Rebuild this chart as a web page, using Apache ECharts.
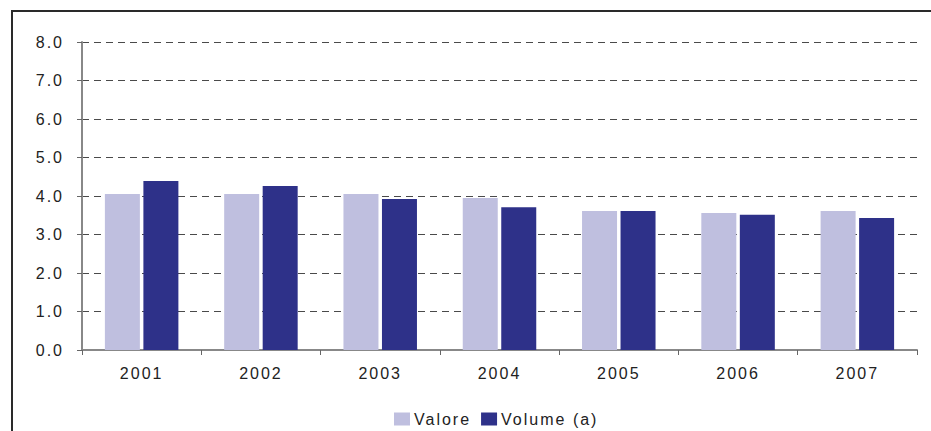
<!DOCTYPE html>
<html>
<head>
<meta charset="utf-8">
<script src="https://cdn.jsdelivr.net/npm/echarts@6/dist/echarts.min.js"></script>
<style>
  html, body { margin: 0; padding: 0; background: #fff; }
  #chart { width: 931px; height: 431px; }
  /* the original uses widely spaced labels */
  #chart svg text { letter-spacing: 2px; }
</style>
</head>
<body>
<div id="chart"></div>
<script>
const years = ['2001', '2002', '2003', '2004', '2005', '2006', '2007'];
const valore = [4.05, 4.05, 4.05, 3.95, 3.61, 3.56, 3.61];
const volume = [4.39, 4.26, 3.92, 3.71, 3.61, 3.51, 3.43];
const yTicks = [0, 1, 2, 3, 4, 5, 6, 7, 8];

const chart = echarts.init(document.getElementById('chart'), null, { renderer: 'svg' });

const labelFont = {
  color: '#222',
  fontFamily: 'Liberation Sans, Arial, sans-serif',
  fontSize: 16
};

chart.setOption({
  animation: false,
  backgroundColor: '#fff',
  graphic: [{
    type: 'rect',
    shape: { x: 12, y: 11, width: 940, height: 440 },
    style: { fill: 'none', stroke: '#2a2a2a', lineWidth: 2 },
    silent: true
  }],
  grid: { left: 82, right: 14, top: 42, bottom: 81 },
  legend: {
    top: 411,
    left: 394,
    padding: 0,
    itemWidth: 16,
    itemHeight: 13,
    itemGap: 22,
    icon: 'rect',
    textStyle: Object.assign({}, labelFont, { padding: [0, 0, 0, -1] }),
    data: ['Valore', 'Volume (a)']
  },
  xAxis: {
    type: 'category',
    data: years,
    axisLine: { lineStyle: { color: '#888', width: 2 } },
    axisTick: { show: true, length: 5, lineStyle: { color: '#666' } },
    axisLabel: Object.assign({ margin: 15 }, labelFont),
    splitLine: { show: false }
  },
  yAxis: {
    type: 'value',
    min: yTicks[0],
    max: yTicks[yTicks.length - 1],
    interval: 1,
    axisLine: { show: true, lineStyle: { color: '#888', width: 2 } },
    axisTick: { show: true, length: 5, lineStyle: { color: '#666' } },
    axisLabel: Object.assign({ margin: 18, formatter: v => v.toFixed(1) }, labelFont),
    splitLine: {
      show: true,
      lineStyle: { color: '#4a4a4a', type: [7, 5], width: 1 }
    }
  },
  series: [
    {
      name: 'Valore',
      type: 'bar',
      data: valore,
      barWidth: 35,
      barGap: '10%',
      itemStyle: { color: '#BFBFDF' }
    },
    {
      name: 'Volume (a)',
      type: 'bar',
      data: volume,
      barWidth: 35,
      itemStyle: { color: '#2E3189' }
    }
  ]
});
</script>
</body>
</html>
